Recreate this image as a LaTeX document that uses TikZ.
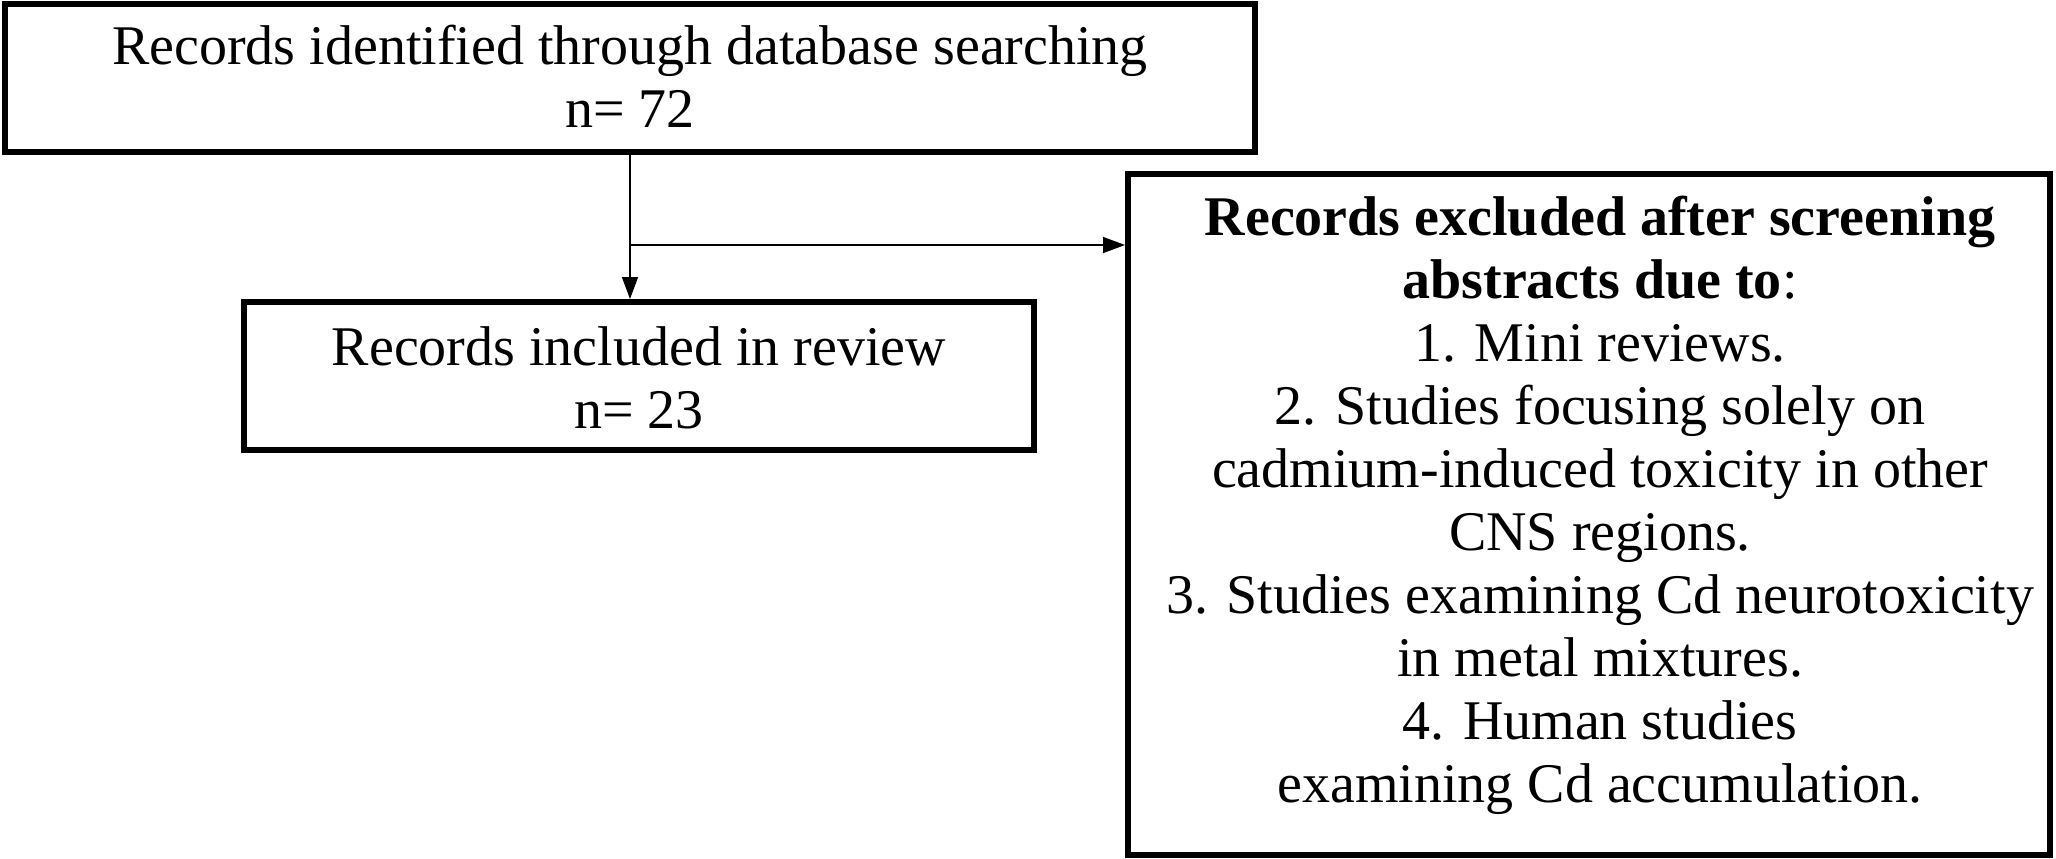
\documentclass[tikz,border=0pt]{standalone}
\usepackage{fontspec}
\setmainfont{Liberation Serif}
\usetikzlibrary{arrows.meta}
\begin{document}
\begin{tikzpicture}[x=1pt,y=-1pt,
  box/.style={draw,line width=6pt,inner sep=0pt},
  txt/.style={align=center,font=\fontsize{56}{63}\selectfont},
  conn/.style={line width=1.5pt},
  arr/.style={conn,-{Triangle[length=22pt,width=16pt]}}]
\useasboundingbox (0,0) rectangle (2056,859);
\node[box,minimum width=1250pt,minimum height=148pt] (b1) at (630,78) {};
\node[txt] (t1) at (630,76) {Records identified through database searching\\n= 72};
\node[box,minimum width=790pt,minimum height=148pt] (b2) at (639,376) {};
\node[txt] (t2) at (639,378) {Records included in review\\n= 23};
\node[box,minimum width=922pt,minimum height=681pt] (b3) at (1589,514) {};
\node[txt] (t3) at (1600,505) {\textbf{Records excluded after screening}\\\textbf{abstracts due to}:\\1. Mini reviews.\\2. Studies focusing solely on\\cadmium-induced toxicity in other\\CNS regions.\\3. Studies examining Cd neurotoxicity\\in metal mixtures.\\4. Human studies\\examining Cd accumulation.};
\coordinate (j) at (630,245);
\draw[arr] (b1.south -| j) -- (b2.north -| j);
\draw[arr] (j) -- (j -| b3.west);
\end{tikzpicture}
\end{document}
